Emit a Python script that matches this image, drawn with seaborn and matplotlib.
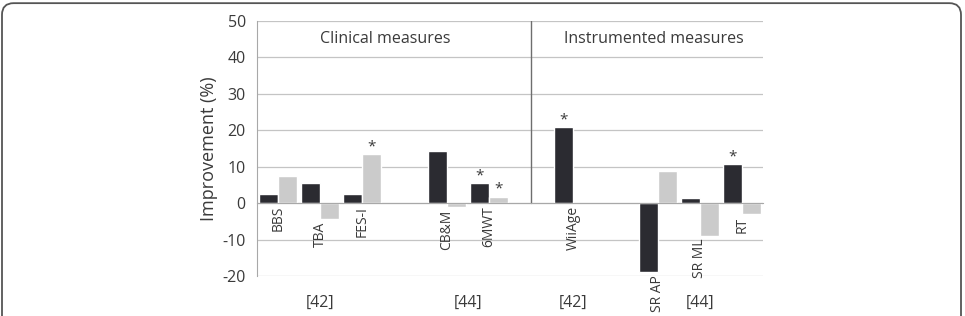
import numpy as np
import pandas as pd
import seaborn as sns
import matplotlib.pyplot as plt
from matplotlib.patches import FancyBboxPatch

# slots in display order; gap entries are empty slots between groups
order = ['BBS', 'TBA', 'FES-I', 'gap1', 'CB&M', '6MWT', 'gap2',
         'WiiAge', 'gap3', 'SR AP', 'SR ML', 'RT']
measures = ['BBS', 'TBA', 'FES-I', 'CB&M', '6MWT', 'WiiAge', 'SR AP', 'SR ML', 'RT']
dark_vals = [2.4, 5.4, 2.4, 14.2, 5.4, 20.8, -19.0, 1.4, 10.7]
light_vals = [7.4, -4.3, 13.4, -1.0, 1.7, np.nan, 8.9, -9.0, -3.1]
dark_sig = [False, False, False, False, True, True, False, False, True]
light_sig = [False, False, True, False, True, False, False, False, False]

groups = ['[42]', '[44]', '[42]', '[44]']
group_members = [['BBS', 'TBA', 'FES-I'], ['CB&M', '6MWT'], ['WiiAge'], ['SR AP', 'SR ML', 'RT']]
sections = ['Clinical measures', 'Instrumented measures']

df = pd.DataFrame({
    'measure': measures * 2,
    'value': dark_vals + light_vals,
    'series': ['dark'] * len(measures) + ['light'] * len(measures),
})

sns.set_style('white')
plt.rcParams['font.family'] = ['Open Sans', 'DejaVu Sans']
plt.rcParams['axes.unicode_minus'] = False
txt = '#3a3a3a'
axcol = '#a8a8a8'

fig = plt.figure(figsize=(9.65, 3.16), dpi=100)
ax = fig.add_axes([0.2663, 0.1266, 0.5244, 0.8069])

ax.yaxis.grid(True, color='#c4c4c4', linewidth=0.9)
ax.set_axisbelow(True)

sns.barplot(data=df, x='measure', y='value', hue='series', order=order,
            palette={'dark': '#2b2b31', 'light': '#cbcbcb'}, width=0.9,
            saturation=1, legend=False, ax=ax)

ax.set_xlim(-0.5, len(order) - 0.5)
ax.set_ylim(-20, 50)
ax.set_yticks(np.arange(-20, 51, 10))
ax.set_xlabel('')
ax.set_ylabel('Improvement (%)', fontsize=13, color=txt, labelpad=3)

for s in ['top', 'right']:
    ax.spines[s].set_visible(False)
ax.spines['left'].set_color(axcol)
ax.spines['bottom'].set_color(axcol)
ax.spines['bottom'].set_position(('data', 0))
ax.tick_params(axis='y', length=5, color=axcol, labelsize=11.5, labelcolor=txt, pad=3)
ax.tick_params(axis='x', which='major', length=0, labelbottom=False)
ax.set_xticks(np.arange(-0.5, len(order), 1), minor=True)
ax.tick_params(axis='x', which='minor', length=4, color=axcol, direction='out')

# section divider and titles
div = order.index('gap2')
ax.plot([div, div], [0, 50], color='#6e6e6e', linewidth=1.0)
ax.text((0 + div) / 2 - 0.45, 45, sections[0], ha='center', va='center', fontsize=11.5, color=txt)
ax.text((div + len(order) - 1) / 2 + 0.4, 45, sections[1], ha='center', va='center', fontsize=11.5, color=txt)

off = 0.9 / 4
for m, d, l, ds, ls in zip(measures, dark_vals, light_vals, dark_sig, light_sig):
    i = order.index(m)
    low = np.nanmin([0, d, l])
    ax.annotate(m, (i, low), xytext=(0, -2), textcoords='offset points',
                rotation=90, ha='center', va='top', fontsize=10, color=txt)
    if ds:
        ax.annotate('*', (i - off, max(d, 0)), xytext=(0, 0), textcoords='offset points',
                    ha='center', va='bottom', fontsize=11, color=txt)
    if ls:
        ax.annotate('*', (i + off, max(l, 0)), xytext=(0, 0), textcoords='offset points',
                    ha='center', va='bottom', fontsize=11, color=txt)

for g, mem in zip(groups, group_members):
    cx = np.mean([order.index(m) for m in mem])
    ax.text(cx, -27.5, g, ha='center', va='center', fontsize=11.5, color=txt, clip_on=False)

# rounded frame around the figure
frame = FancyBboxPatch((2 / 965, -0.2), 959 / 965, 1.19, boxstyle='round,pad=0,rounding_size=0.012',
                       transform=fig.transFigure, fill=False, edgecolor='#555555', linewidth=1.3,
                       mutation_aspect=965 / 316)
fig.patches.append(frame)

fig.savefig('out.png', dpi=100)
